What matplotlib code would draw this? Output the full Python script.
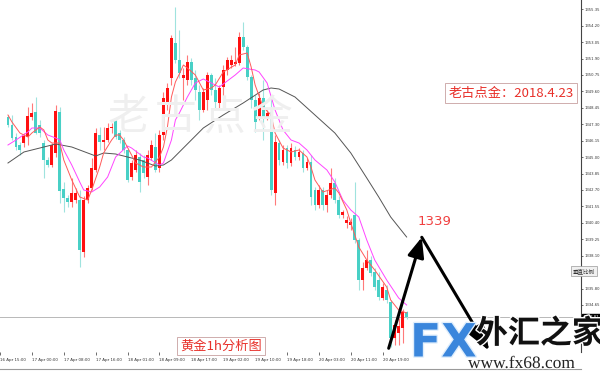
import matplotlib
matplotlib.use('Agg')
import matplotlib.pyplot as plt
import matplotlib.patheffects as pe
import numpy as np

plt.rcParams['font.family'] = ['Noto Sans CJK SC', 'DejaVu Sans']

# XAUUSD 1h candles, 16 Apr 17:00 -> 20 Apr 23:00
opens = [1347.81, 1347.25, 1346.41, 1345.85, 1345.99, 1346.41, 1347.81, 1348.16, 1347.25, 1345.99,
         1344.80, 1344.45, 1345.29, 1348.16, 1342.77, 1342.14, 1341.86, 1342.00, 1342.00, 1338.36,
         1342.00, 1342.84, 1344.10, 1346.55, 1346.06, 1346.20, 1347.04, 1347.53, 1346.69, 1346.20,
         1345.50, 1343.61, 1344.10, 1345.01, 1344.80, 1343.61, 1344.94, 1345.71, 1344.24, 1346.55,
         1348.79, 1350.54, 1352.99, 1351.80, 1350.54, 1350.40, 1351.66, 1350.54, 1349.56, 1348.30,
         1349.00, 1350.75, 1349.70, 1348.79, 1349.91, 1351.10, 1351.45, 1351.52, 1351.59, 1353.41,
         1352.71, 1350.61, 1349.00, 1347.74, 1349.14, 1347.74, 1348.16, 1342.49, 1345.99, 1344.66,
         1345.64, 1344.59, 1345.50, 1345.01, 1345.29, 1344.24, 1344.66, 1342.70, 1341.65, 1342.70,
         1341.65, 1342.35, 1343.19, 1342.00, 1340.95, 1340.39, 1340.25, 1340.95, 1339.20, 1336.40,
         1337.24, 1337.80, 1336.96, 1336.40, 1335.14, 1335.70, 1334.86, 1332.34, 1332.69, 1333.04,
         1334.16]
highs = [1347.95, 1347.95, 1346.69, 1346.06, 1346.69, 1348.51, 1348.79, 1349.21, 1347.60, 1346.20,
         1345.01, 1345.99, 1348.65, 1348.51, 1343.26, 1342.35, 1343.54, 1342.84, 1342.70, 1342.28,
         1343.05, 1344.94, 1347.04, 1347.11, 1347.11, 1347.39, 1347.39, 1347.74, 1346.90, 1346.41,
         1345.64, 1344.80, 1345.50, 1345.29, 1345.15, 1345.50, 1346.20, 1346.69, 1346.90, 1349.56,
         1350.19, 1353.55, 1355.51, 1353.90, 1351.24, 1352.15, 1351.94, 1351.10, 1350.05, 1349.84,
         1350.96, 1350.89, 1350.54, 1350.05, 1351.45, 1352.01, 1352.15, 1352.71, 1353.76, 1354.46,
         1352.85, 1350.75, 1349.35, 1349.49, 1350.40, 1348.30, 1349.00, 1346.55, 1346.20, 1345.85,
         1345.85, 1345.99, 1345.78, 1345.64, 1345.50, 1344.94, 1345.15, 1342.91, 1343.05, 1342.91,
         1342.70, 1344.24, 1343.54, 1342.28, 1341.30, 1340.88, 1340.74, 1343.26, 1339.34, 1337.66,
         1338.50, 1338.08, 1337.24, 1336.96, 1336.19, 1336.05, 1335.00, 1333.60, 1333.74, 1334.37,
         1334.23]
lows = [1347.11, 1346.20, 1345.50, 1345.15, 1345.71, 1345.85, 1347.60, 1346.62, 1346.41, 1343.54,
        1344.31, 1344.31, 1345.01, 1341.79, 1341.16, 1341.51, 1341.51, 1341.79, 1337.31, 1338.01,
        1341.79, 1342.70, 1343.96, 1345.50, 1345.50, 1346.06, 1346.69, 1346.27, 1345.99, 1345.29,
        1343.26, 1343.40, 1343.96, 1342.56, 1343.54, 1343.05, 1344.80, 1343.96, 1343.96, 1346.20,
        1348.30, 1350.05, 1351.59, 1350.54, 1349.00, 1350.05, 1350.05, 1349.00, 1347.60, 1348.16,
        1348.30, 1349.35, 1348.30, 1348.44, 1348.30, 1350.75, 1351.24, 1351.38, 1351.45, 1352.50,
        1350.40, 1348.44, 1346.76, 1347.60, 1346.20, 1347.60, 1342.35, 1341.65, 1344.45, 1344.45,
        1344.24, 1344.38, 1344.80, 1344.80, 1343.96, 1344.10, 1341.65, 1341.30, 1341.44, 1341.30,
        1341.16, 1342.14, 1341.79, 1340.74, 1340.74, 1340.04, 1339.90, 1338.99, 1335.70, 1335.70,
        1337.10, 1336.68, 1335.70, 1335.00, 1335.00, 1334.79, 1331.71, 1331.85, 1331.85, 1331.99,
        1333.67]
closes = [1347.25, 1346.34, 1345.71, 1345.50, 1346.48, 1347.88, 1348.09, 1346.69, 1346.69, 1344.80,
          1344.45, 1345.85, 1348.23, 1342.63, 1342.14, 1341.86, 1342.49, 1342.49, 1338.50, 1342.00,
          1342.84, 1344.24, 1346.69, 1346.06, 1346.20, 1347.04, 1347.11, 1346.41, 1346.20, 1345.50,
          1343.40, 1344.59, 1345.15, 1343.26, 1343.89, 1345.15, 1345.85, 1344.10, 1346.55, 1349.14,
          1349.84, 1353.34, 1351.80, 1350.89, 1350.75, 1351.66, 1350.40, 1349.70, 1348.30, 1349.56,
          1350.75, 1349.70, 1348.86, 1349.84, 1351.10, 1351.80, 1351.80, 1351.66, 1353.41, 1352.71,
          1350.61, 1349.00, 1347.46, 1349.14, 1347.74, 1348.09, 1342.70, 1346.06, 1344.80, 1345.50,
          1344.59, 1345.64, 1345.01, 1345.36, 1344.24, 1344.66, 1342.21, 1341.65, 1342.70, 1341.65,
          1342.35, 1343.19, 1342.00, 1340.95, 1341.16, 1340.60, 1340.46, 1339.20, 1336.40, 1337.24,
          1337.80, 1336.89, 1335.91, 1335.21, 1335.91, 1335.00, 1332.34, 1333.25, 1333.18, 1334.16,
          1333.81]

# moving averages read at sample bars
ma_fast_idx = [0, 1, 3, 5, 6, 8, 9, 10, 11, 13, 14, 16, 18, 20, 21, 23, 24, 26, 27, 28, 29, 31, 32,
               34, 36, 38, 39, 40, 41, 42, 43, 44, 45, 47, 49, 51, 52, 54, 57, 58, 60, 61, 62, 64,
               66, 67, 69, 71, 73, 75, 76, 77, 79, 82, 83, 85, 86, 88, 90, 92, 95, 96, 98, 100]
ma_fast = [1347.95, 1347.46, 1346.69, 1346.41, 1346.69, 1347.11, 1346.90, 1346.20, 1345.99, 1345.99,
           1344.80, 1343.40, 1342.21, 1342.00, 1342.70, 1344.31, 1345.29, 1346.20, 1346.55, 1346.55,
           1346.20, 1345.15, 1344.59, 1344.31, 1344.31, 1345.01, 1345.71, 1347.11, 1349.21, 1350.26,
           1350.82, 1351.45, 1351.24, 1350.75, 1349.70, 1349.84, 1350.05, 1350.96, 1351.45, 1352.15,
           1352.29, 1351.31, 1350.05, 1348.51, 1347.95, 1346.69, 1345.64, 1345.36, 1345.50, 1345.01,
           1344.31, 1343.40, 1342.56, 1342.84, 1342.49, 1341.30, 1340.39, 1338.71, 1337.80, 1337.10,
           1335.91, 1335.00, 1334.30, 1334.09]
ma_mid_idx = [0, 2, 5, 6, 8, 10, 12, 13, 14, 16, 18, 19, 21, 23, 25, 27, 30, 31, 34, 35, 38, 39, 41,
              42, 43, 45, 47, 49, 52, 53, 57, 59, 62, 63, 65, 67, 69, 71, 73, 75, 77, 80, 82, 84,
              86, 88, 90, 92, 95, 98, 100]
ma_mid = [1345.85, 1346.20, 1346.76, 1347.04, 1347.04, 1346.55, 1346.34, 1346.20, 1345.50, 1344.45,
          1343.26, 1342.70, 1342.56, 1342.91, 1343.61, 1345.01, 1345.78, 1345.64, 1345.01, 1344.94,
          1344.45, 1344.59, 1346.20, 1347.60, 1348.09, 1349.21, 1350.19, 1350.47, 1350.05, 1349.91,
          1350.75, 1351.24, 1351.10, 1350.96, 1350.19, 1348.30, 1346.90, 1346.20, 1345.99, 1345.50,
          1344.80, 1344.10, 1343.25, 1342.00, 1341.30, 1340.81, 1339.20, 1337.80, 1336.40, 1335.14,
          1334.65]
ma_slow_idx = [0, 4, 8, 12, 16, 22, 24, 27, 33, 37, 39, 41, 46, 49, 54, 59, 64, 66, 68, 72, 77, 82,
               86, 90, 93, 96, 100]
ma_slow = [1344.59, 1345.36, 1345.64, 1345.92, 1345.71, 1345.08, 1345.29, 1345.22, 1344.80, 1344.38,
           1344.45, 1344.80, 1346.20, 1347.04, 1347.95, 1348.79, 1349.70, 1349.84, 1349.77, 1349.21,
           1347.95, 1346.69, 1345.29, 1343.54, 1342.21, 1340.81, 1339.41]

time_ticks = [-2, 6, 14, 22, 30, 38, 46, 54, 62, 70, 78, 86, 94]
time_labels = ['16 Apr 15:00', '17 Apr 00:00', '17 Apr 08:00', '17 Apr 16:00', '18 Apr 01:00',
               '18 Apr 09:00', '18 Apr 17:00', '19 Apr 02:00', '19 Apr 10:00', '19 Apr 18:00',
               '20 Apr 03:00', '20 Apr 11:00', '20 Apr 19:00']
price_ticks = [round(1332.35 + 1.15 * k, 2) for k in range(21)]
hidden_ticks = [1332.35, 1333.50, 1336.95]   # covered by logo / price tag / scale button
last_price = closes[-1]
target = 1339

W, H = 600, 373
fig = plt.figure(figsize=(6, 3.73), dpi=100)
ax = fig.add_axes([0, 1 - 352 / H, 581 / W, 352 / H])

# watermark
for ch, cx in zip('老古点金', [128, 176, 224, 272]):
    fig.text(cx / W, 1 - 118 / H, ch, fontsize=30, color='#efefef', ha='center', va='center',
             family=['Noto Sans CJK SC'], zorder=0)
ax.set_facecolor('none')

o = np.array(opens)
h = np.array(highs)
l = np.array(lows)
c = np.array(closes)
idx = np.arange(len(o))
up = c >= o
body_col = np.where(up, '#ff1010', '#48d0c6')
wick_col = np.where(up, '#ff7a7a', '#9fe3de')

ax.vlines(idx, l, h, colors=wick_col, linewidth=0.8, zorder=2)
ax.bar(idx, np.maximum(np.abs(c - o), 0.06), bottom=np.minimum(o, c), width=0.72,
       color=body_col, linewidth=0, zorder=3)

ax.plot(ma_slow_idx, ma_slow, color='#555555', linewidth=0.7, zorder=4)
ax.plot(ma_mid_idx, ma_mid, color='#ff44ff', linewidth=0.7, zorder=4)
ax.plot(ma_fast_idx, ma_fast, color='#ff5a5a', linewidth=0.7, zorder=4)

ax.axhline(last_price, color='#b8b8b8', linewidth=0.7, zorder=1)

ax.set_xlim(-0.42, 143.74)
ax.set_ylim(1331.36, 1356.0)

ax.yaxis.tick_right()
ax.set_yticks(price_ticks)
ax.set_yticklabels(['' if any(abs(v - t) < 0.01 for t in hidden_ticks) else '%.2f' % v
                    for v in price_ticks], fontsize=2.7, color='#333333', family=['DejaVu Sans'])
ax.tick_params(axis='y', direction='out', length=1.5, width=0.5, pad=1, colors='#333333')
ax.set_xticks(time_ticks)
ax.set_xticklabels(time_labels, fontsize=2.9, color='#333333', ha='left', family=['DejaVu Sans'])
ax.tick_params(axis='x', direction='out', length=2, width=0.5, pad=2.5, colors='#333333')
for s in ['top', 'left', 'bottom']:
    ax.spines[s].set_visible(False)
ax.spines['right'].set_color('#444444')
ax.spines['right'].set_linewidth(0.8)

fig.add_artist(plt.Line2D([0, 581 / W], [1 - 369 / H, 1 - 369 / H], color='#9a9a9a', linewidth=0.8))

# current price tag
ax.text(1.004, last_price, '%.2f' % last_price, transform=ax.get_yaxis_transform(),
        fontsize=2.7, color='white', va='center', ha='left', family=['DejaVu Sans'],
        bbox=dict(boxstyle='square,pad=0.25', fc='black', ec='black'), clip_on=False)

# scale button
fig.text(573 / W, 1 - 271 / H, '垂直比例', fontsize=4, color='#333333', va='center', ha='left',
         bbox=dict(boxstyle='square,pad=0.3', fc='#f0f0f0', ec='#999999', lw=0.5))

# arrows
ax.annotate('', xy=(103.8, 1339.39), xytext=(95.5, 1331.62), annotation_clip=False,
            arrowprops=dict(arrowstyle='-|>,head_length=0.6,head_width=0.25', mutation_scale=20,
                            color='black', lw=2.2, shrinkA=0, shrinkB=0), zorder=6)
ax.annotate('', xy=(120.7, 1331.45), xytext=(103.8, 1339.39), annotation_clip=False,
            arrowprops=dict(arrowstyle='-|>,head_length=0.8,head_width=0.3', mutation_scale=20,
                            color='black', lw=2.2, shrinkA=0, shrinkB=0), zorder=6)
ax.text(107.0, 1340.5, str(target), fontsize=9.5, color='#f04040', ha='center', va='center',
        family=['DejaVu Sans'])

# titles
fig.text(511 / W, 1 - 93 / H, '老古点金：2018.4.23', fontsize=9.5, color='#e8302a',
         ha='center', va='center',
         bbox=dict(boxstyle='square,pad=0.25', fc='white', ec='#c8a0a0', lw=0.6))
fig.text(221 / W, 1 - 346 / H, '黄金1h分析图', fontsize=9.5, color='#e8302a',
         ha='center', va='center',
         bbox=dict(boxstyle='square,pad=0.2', fc='white', ec='#c8a0a0', lw=0.6))

# site logo
fig.text(410 / W, 1 - 344 / H, 'FX', fontsize=33, fontweight='bold', color='#3a86dc',
         ha='left', va='center', family=['DejaVu Sans'], zorder=7,
         path_effects=[pe.withStroke(linewidth=2, foreground='#dfeefc')])
fig.text(476 / W, 1 - 334 / H, '外汇之家', fontsize=23, fontweight='bold', color='#111111',
         ha='left', va='center', family=['Noto Sans CJK SC'], zorder=7,
         path_effects=[pe.withStroke(linewidth=2, foreground='white')])
fig.text(468 / W, 1 - 364 / H, 'www.fx68.com', fontsize=12.5, color='#222222',
         ha='left', va='center', family=['Liberation Serif', 'DejaVu Serif'], zorder=7,
         path_effects=[pe.withStroke(linewidth=1.5, foreground='white')])

fig.savefig('out.png', dpi=100, facecolor='white')
